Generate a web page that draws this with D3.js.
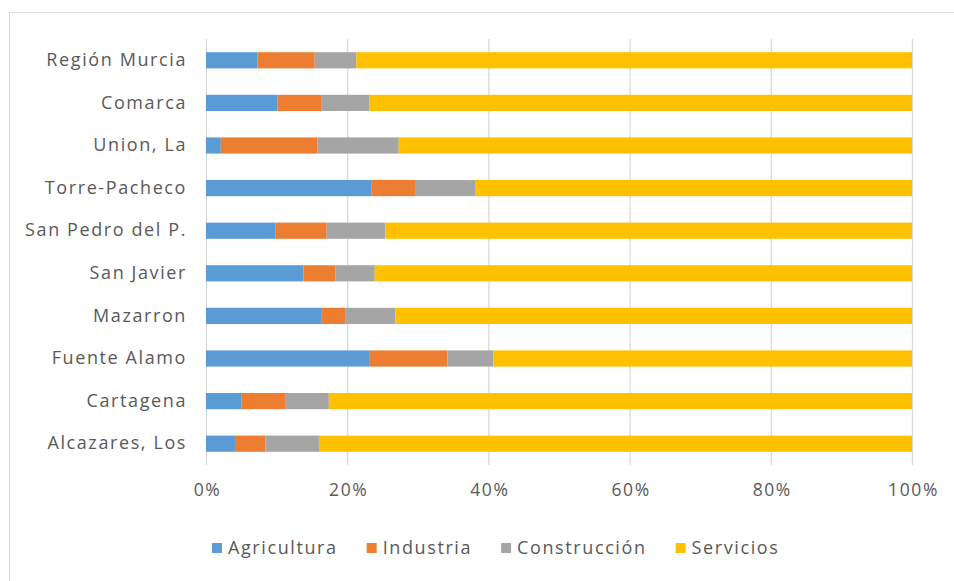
<!DOCTYPE html>
<meta charset="utf-8" />
<script src="https://d3js.org/d3.v7.min.js"></script>
<style>
  body { margin: 0; background: #fff; }
  text { font-family: "Open Sans", sans-serif; fill: #595959; letter-spacing: 1.6px; }
</style>
<body>
  <div id="my_dataviz"></div>
  <script>
    // categories, top to bottom as shown
    const municipios = [
      "Región Murcia", "Comarca", "Union, La", "Torre-Pacheco", "San Pedro del P.",
      "San Javier", "Mazarron", "Fuente Alamo", "Cartagena", "Alcazares, Los"
    ];
    const sectores = ["Agricultura", "Industria", "Construcción", "Servicios"];
    const colores = ["#5B9BD5", "#ED7D31", "#A5A5A5", "#FFC000"];

    // shares in %
    const agricultura  = [7.3, 10.1, 2.1, 23.4, 9.8, 13.8, 16.3, 23.1, 5.0, 4.1];
    const industria    = [8.1, 6.2, 13.7, 6.2, 7.3, 4.5, 3.4, 11.1, 6.2, 4.3];
    const construccion = [5.9, 6.8, 11.5, 8.5, 8.3, 5.6, 7.1, 6.5, 6.2, 7.6];
    const servicios    = [78.7, 76.9, 72.7, 61.9, 74.6, 76.1, 73.2, 59.3, 82.6, 84.0];

    const ticks = [0, 0.2, 0.4, 0.6, 0.8, 1];

    const W = 954, H = 581;
    const svg = d3.select("#my_dataviz").append("svg")
      .attr("width", W).attr("height", H);

    // chart frame (runs off the right/bottom edge in the original)
    svg.append("rect")
      .attr("x", 9.5).attr("y", 12.5)
      .attr("width", 1000).attr("height", 700)
      .attr("fill", "none").attr("stroke", "#D9D9D9");

    const rows = municipios.map((m, i) => {
      const tot = agricultura[i] + industria[i] + construccion[i] + servicios[i];
      return {
        name: m,
        Agricultura: agricultura[i] / tot,
        Industria: industria[i] / tot,
        "Construcción": construccion[i] / tot,
        Servicios: servicios[i] / tot
      };
    });

    const x = d3.scaleLinear().domain([0, 1]).range([206, 912]);
    const y = d3.scaleBand().domain(municipios).range([39, 465])
      .paddingInner(0.62).paddingOuter(0.31);

    // gridlines
    svg.append("g")
      .attr("transform", "translate(0,465)")
      .call(d3.axisBottom(x).tickValues(ticks).tickSize(-426).tickFormat(""))
      .call(g => g.select(".domain").remove())
      .call(g => g.selectAll("line").attr("stroke", "#D9D9D9").attr("stroke-width", 1.3));

    const stack = d3.stack().keys(sectores)(rows);

    svg.append("g").selectAll("g")
      .data(stack)
      .join("g")
      .attr("fill", (d, i) => colores[i])
      .selectAll("rect")
      .data(d => d)
      .join("rect")
      .attr("x", d => x(d[0]))
      .attr("width", d => x(d[1]) - x(d[0]))
      .attr("y", d => y(d.data.name))
      .attr("height", y.bandwidth());

    // x tick labels
    svg.append("g")
      .attr("transform", "translate(1,484)")
      .call(d3.axisBottom(x).tickValues(ticks).tickSize(0).tickPadding(0).tickFormat(d3.format(".0%")))
      .call(g => g.select(".domain").remove())
      .call(g => g.selectAll("text").style("font-size", "17.5px").attr("fill", "#595959"));

    // category labels
    svg.append("g")
      .attr("transform", "translate(206,0)")
      .call(d3.axisLeft(y).tickSize(0).tickPadding(19))
      .call(g => g.select(".domain").remove())
      .call(g => g.selectAll("text").style("font-size", "18px").attr("fill", "#595959"));

    // legend
    const legend = svg.append("g").attr("transform", "translate(0,548)");
    let lx = 212;
    sectores.forEach((s, i) => {
      legend.append("rect").attr("x", lx).attr("y", -5).attr("width", 10).attr("height", 10)
        .attr("fill", colores[i]);
      const t = legend.append("text").attr("x", lx + 16).attr("dy", "0.35em")
        .style("font-size", "18px").text(s);
      lx += 16 + t.node().getComputedTextLength() + 29;
    });
  </script>
</body>
